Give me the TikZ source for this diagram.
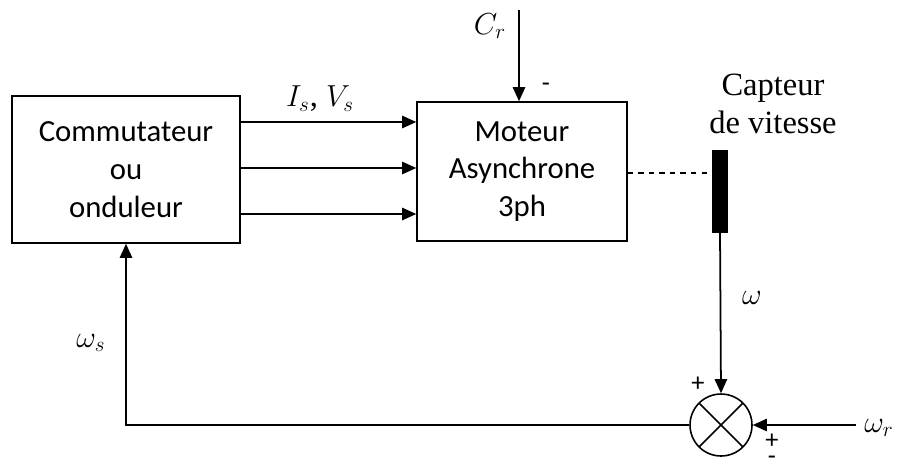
\documentclass[tikz,border=0pt]{standalone}
\usepackage{fontspec}
\setmainfont{Liberation Serif}
\newfontfamily\boxfont{Carlito}
\usetikzlibrary{positioning, calc, arrows.meta}

\begin{document}
\begin{tikzpicture}[x=0.02cm, y=-0.02cm,
    blockbox/.style={draw, line width=0.9pt, align=center, inner sep=0pt,
                     font=\boxfont\fontsize{17.5}{21.5}\selectfont},
    sig/.style={line width=1pt, -{Triangle[length=8pt, width=7pt]}},
    lbl/.style={font=\fontsize{18.5}{21.5}\selectfont, inner sep=0pt},
    signlbl/.style={font=\boxfont\fontsize{15}{17}\selectfont, inner sep=0pt}]
  \useasboundingbox (0,0) rectangle (898,467);

  % blocks
  \node[blockbox, minimum width=4.56cm, minimum height=2.94cm] (conv) at (126,169.5)
    {Commutateur\\ou\\onduleur};
  \node[blockbox, minimum width=4.2cm, minimum height=2.78cm] (motor) at (522,171.5)
    {Moteur\\Asynchrone\\3ph};
  \node[fill=black, draw, minimum width=0.3cm, minimum height=1.64cm, inner sep=0pt] (sensor) at (720,191) {};
  \node[circle, draw, line width=0.9pt, minimum size=1.24cm, inner sep=0pt,
        path picture={\draw[line width=0.9pt] (path picture bounding box.north west) -- (path picture bounding box.south east)
                      (path picture bounding box.north east) -- (path picture bounding box.south west);}]
        (sum) at (721,425) {};

  % labels
  \node[lbl, align=center] (capt) at (773,104) {Capteur\\de vitesse};
  \node[lbl] (isvs) at (320,99) {$I_s$, $V_s$};
  \node[lbl] (crl) at (490,26) {$C_r$};
  \node[lbl] (wl) at (752,298) {$\omega$};
  \node[lbl] (wsl) at (91,343) {$\omega_s$};
  \node[lbl] (wrl) at (879,428) {$\omega_r$};
  \node[signlbl] (mcr) at (546,87) {-};
  \node[signlbl] (pw) at (698,384) {+};
  \node[signlbl, font=\boxfont\fontsize{15}{9}\selectfont, align=center] (pmwr) at (772,449) {+\\-};

  % connections
  \foreach \y in {122,168,214}
    \draw[sig] (conv.east |- 0,\y) -- (motor.west |- 0,\y);
  \coordinate (crin) at (519,10);
  \draw[sig] (crin) -- (crin |- motor.north);
  \draw[line width=0.8pt, dashed] ([yshift=-1.5*0.02cm]motor.east) -- ([yshift=-1.5*0.02cm]motor.east -| sensor.west);
  \draw[sig] (sensor.south) -- (sum.north);
  \coordinate (wrin) at (856,425);
  \draw[sig] (wrin) -- (sum.east);
  \draw[sig] (sum.west) -| (conv.south);
\end{tikzpicture}
\end{document}
